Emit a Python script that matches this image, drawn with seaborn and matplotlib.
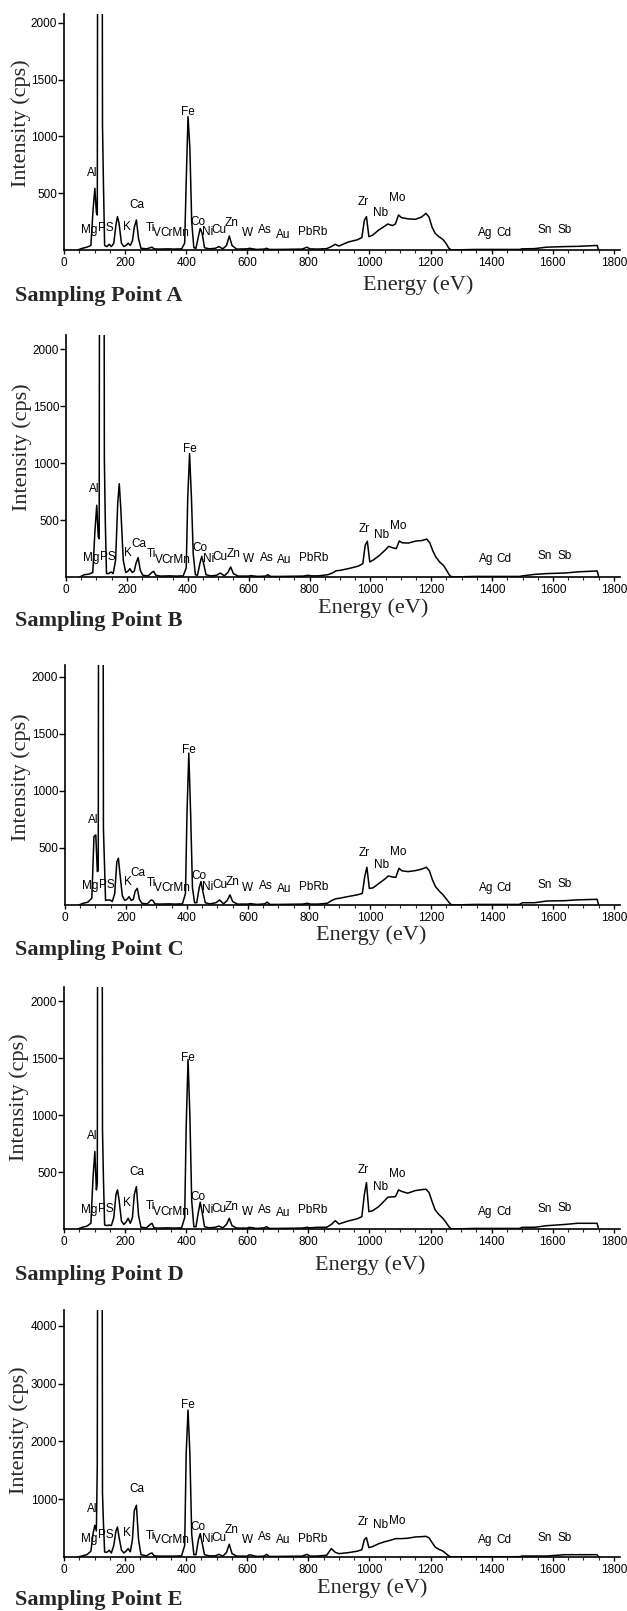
import matplotlib
matplotlib.use("Agg")
import matplotlib.pyplot as plt
from matplotlib.ticker import MultipleLocator
import seaborn as sns
import pandas as pd

# ---------------- data ----------------
ENERGY = [45, 60, 75, 88, 95, 101, 106, 109, 111, 124, 126, 129, 133, 140, 148, 155,
          163, 170, 175, 180, 188, 196, 203, 210, 217, 224, 230, 237, 244, 252, 270,
          282, 288, 295, 310, 340, 360, 385, 395, 400, 406, 412, 418, 425, 432, 440,
          446, 452, 460, 475, 495, 507, 520, 532, 541, 550, 565, 600, 607, 630, 655,
          663, 672, 700, 780, 795, 805, 830, 860, 875, 888, 900, 930, 960, 975, 983,
          990, 998, 1010, 1030, 1050, 1060, 1075, 1085, 1095, 1105, 1125, 1150, 1170,
          1185, 1195, 1205, 1215, 1228, 1240, 1250, 1260, 1268, 1345, 1490, 1500,
          1540, 1580, 1640, 1680, 1745, 1750]

INT_A = [0, 15, 25, 40, 350, 543, 330, 308, 5000, 5000, 1100, 600, 40, 30, 50, 30,
         60, 220, 294, 240, 60, 30, 40, 60, 40, 80, 200, 264, 100, 15, 10,
         20, 25, 10, 8, 10, 8, 10, 60, 600, 1175, 900, 250, 20, 15, 120,
         190, 150, 20, 10, 15, 30, 10, 40, 123, 40, 8, 10, 15, 5, 8,
         15, 5, 5, 8, 25, 10, 8, 12, 30, 50, 35, 70, 90, 110, 260,
         294, 117, 130, 176, 210, 229, 215, 230, 308, 285, 275, 270, 290,
         323, 290, 200, 147, 115, 94, 60, 15, 0, 5, 5, 10,
         12, 25, 30, 32, 40, 0]

INT_B = [0, 20, 25, 40, 400, 629, 350, 336, 5000, 5000, 1038, 500, 30, 30, 44, 30,
         150, 650, 819, 600, 150, 40, 50, 73, 40, 50, 120, 170, 60, 15, 10,
         40, 50, 15, 8, 10, 8, 10, 80, 700, 1082, 700, 200, 20, 15, 120,
         181, 120, 20, 10, 15, 35, 10, 40, 88, 30, 8, 8, 12, 5, 8,
         20, 5, 5, 8, 15, 10, 10, 20, 35, 55, 58, 75, 95, 117, 280,
         313, 132, 150, 190, 240, 269, 255, 249, 316, 300, 298, 316, 320,
         333, 300, 230, 175, 130, 102, 60, 15, 0, 5, 5, 10,
         23, 30, 35, 45, 53, 0]

INT_C = [0, 15, 25, 60, 600, 615, 293, 300, 5000, 5000, 673, 400, 40, 44, 44, 30,
         100, 380, 410, 280, 80, 40, 50, 73, 40, 50, 120, 146, 50, 15, 10,
         44, 40, 10, 8, 10, 8, 10, 100, 800, 1332, 800, 150, 20, 20, 150,
         205, 120, 20, 10, 20, 44, 10, 40, 88, 30, 8, 8, 12, 5, 10,
         25, 5, 5, 8, 15, 8, 8, 15, 40, 55, 59, 75, 90, 102, 250,
         331, 146, 150, 190, 230, 255, 245, 243, 322, 300, 293, 302, 315,
         331, 300, 220, 161, 120, 88, 55, 20, 0, 5, 5, 20,
         20, 35, 38, 45, 50, 0]

INT_D = [0, 15, 25, 50, 450, 680, 343, 400, 5000, 5000, 871, 450, 35, 30, 35, 30,
         100, 300, 343, 260, 70, 40, 60, 94, 50, 100, 300, 372, 120, 15, 10,
         40, 50, 10, 8, 10, 8, 10, 100, 900, 1487, 1000, 250, 20, 20, 150,
         235, 150, 20, 10, 15, 26, 10, 40, 94, 30, 8, 8, 15, 5, 10,
         20, 5, 5, 8, 15, 10, 15, 15, 40, 73, 44, 70, 90, 108, 300,
         407, 152, 160, 196, 250, 279, 282, 284, 343, 330, 314, 337, 345,
         349, 320, 240, 167, 125, 94, 60, 20, 0, 5, 5, 15,
         15, 29, 40, 50, 50, 0]

INT_E = [0, 20, 40, 100, 400, 549, 450, 1600, 9000, 9000, 1110, 600, 87, 80, 116, 70,
         200, 450, 520, 350, 120, 70, 100, 145, 90, 300, 800, 896, 300, 40, 20,
         60, 69, 20, 15, 15, 15, 20, 200, 1800, 2543, 1800, 400, 40, 40, 300,
         405, 250, 40, 20, 20, 46, 15, 80, 220, 60, 15, 15, 40, 10, 15,
         46, 10, 10, 15, 46, 15, 17, 30, 145, 80, 58, 75, 100, 127, 300,
         335, 162, 180, 230, 265, 277, 300, 318, 318, 318, 325, 347, 352,
         358, 330, 250, 173, 130, 104, 60, 17, 0, 5, 5, 17,
         17, 17, 40, 40, 40, 0]

ELEMENTS = ["Al", "Mg", "PS", "K", "Ca", "Ti", "V", "CrMn", "Fe", "Co", "Ni", "Cu",
            "Zn", "W", "As", "Au", "PbRb", "Zr", "Nb", "Mo", "Ag", "Cd", "Sn", "Sb"]
ELEM_X = [93, 82, 138, 205, 238, 282, 304, 362, 406, 440, 469, 507,
          549, 600, 659, 718, 815, 980, 1037, 1092, 1380, 1440, 1572, 1638]
ELEM_Y_A = [675, 176, 190, 205, 396, 190, 147, 147, 1219, 250, 161, 176,
            241, 147, 176, 132, 161, 426, 323, 455, 147, 147, 176, 176]
ELEM_Y_B = [769, 170, 175, 213, 292, 199, 152, 152, 1120, 257, 161, 175,
            199, 161, 170, 152, 170, 424, 365, 450, 161, 161, 181, 181]
ELEM_Y_C = [747, 167, 176, 199, 278, 190, 152, 152, 1356, 255, 161, 176,
            205, 152, 167, 138, 161, 454, 351, 463, 152, 152, 176, 181]
ELEM_Y_D = [812, 167, 176, 226, 504, 202, 152, 152, 1501, 284, 167, 176,
            196, 152, 167, 138, 167, 519, 372, 481, 152, 152, 176, 188]
ELEM_Y_E = [838, 318, 376, 422, 1173, 358, 301, 301, 2630, 520, 318, 335,
            474, 301, 347, 289, 318, 607, 549, 624, 289, 301, 335, 335]

PANELS = ["A", "B", "C", "D", "E"]
X_TICKS = [0, 200, 400, 600, 800, 1000, 1200, 1400, 1600, 1800]
Y_TICKS_LOW = [500, 1000, 1500, 2000]
Y_TICKS_HIGH = [1000, 2000, 3000, 4000]

# ---------------- figure ----------------
sns.set_style("white")
plt.rcParams["font.family"] = ["Liberation Sans", "DejaVu Sans"]

W, H = 627, 1611
fig = plt.figure(figsize=(W / 100, H / 100), dpi=100)

# (left, right, top, bottom) in pixels, ymax, yticks
layout = [
    (64, 620, 14, 250, 2079, Y_TICKS_LOW),
    (66, 620, 335, 577, 2123, Y_TICKS_LOW),
    (65, 620, 665, 905, 2105, Y_TICKS_LOW),
    (64, 620, 987, 1229, 2123, Y_TICKS_LOW),
    (64, 620, 1310, 1557, 4277, Y_TICKS_HIGH),
]
series = [INT_A, INT_B, INT_C, INT_D, INT_E]
elem_ys = [ELEM_Y_A, ELEM_Y_B, ELEM_Y_C, ELEM_Y_D, ELEM_Y_E]
ylab_pos = [(21, 123), (22, 447), (21, 777), (19, 1097), (19, 1430)]
xlab_pos = [(418, 285), (373, 608), (371, 935), (370, 1265), (372, 1588)]
samp_pos = [296, 621, 950, 1275, 1600]

serif = ["Liberation Serif", "DejaVu Serif"]

for i, (l, r, t, b, ymax, yt) in enumerate(layout):
    ax = fig.add_axes([l / W, 1 - b / H, (r - l) / W, (b - t) / H])
    df = pd.DataFrame({"Energy": ENERGY, "Intensity": series[i]})
    sns.lineplot(data=df, x="Energy", y="Intensity", ax=ax, color="black",
                 linewidth=1.1, estimator=None, sort=False)
    ax.set_xlim(0, 1820)
    ax.set_ylim(0, ymax)
    ax.set_xticks(X_TICKS)
    ax.set_xticklabels([str(v) for v in X_TICKS])
    ax.xaxis.set_minor_locator(MultipleLocator(50))
    ax.set_yticks(yt)
    ax.set_yticklabels([str(v) for v in yt])
    ax.set_xlabel("")
    ax.set_ylabel("")
    for s in ["top", "right"]:
        ax.spines[s].set_visible(False)
    for s in ["left", "bottom"]:
        ax.spines[s].set_color("black")
        ax.spines[s].set_linewidth(1.2)
    ax.tick_params(axis="y", which="major", direction="out", length=4, width=1,
                   pad=1, labelsize=8.5, colors="black", left=True)
    ax.tick_params(axis="x", which="major", direction="out", length=3, width=1,
                   pad=2, labelsize=8.5, colors="black", bottom=True)
    ax.tick_params(axis="x", which="minor", direction="out", length=2, width=0.8,
                   bottom=True)
    ax.set_facecolor("white")
    for name, ex, ey in zip(ELEMENTS, ELEM_X, elem_ys[i]):
        ax.text(ex, ey, name, ha="center", va="center", fontsize=8.5, color="black")

    fig.text(ylab_pos[i][0] / W, 1 - ylab_pos[i][1] / H, "Intensity (cps)",
             rotation=90, ha="center", va="center", fontsize=16, family=serif)
    fig.text(xlab_pos[i][0] / W, 1 - xlab_pos[i][1] / H, "Energy (eV)",
             ha="center", va="center", fontsize=16, family=serif)
    fig.text(15 / W, 1 - samp_pos[i] / H, f"Sampling Point {PANELS[i]}",
             ha="left", va="center", fontsize=16, fontweight="bold", family=serif)

fig.savefig("out.png", dpi=100, facecolor="white")
